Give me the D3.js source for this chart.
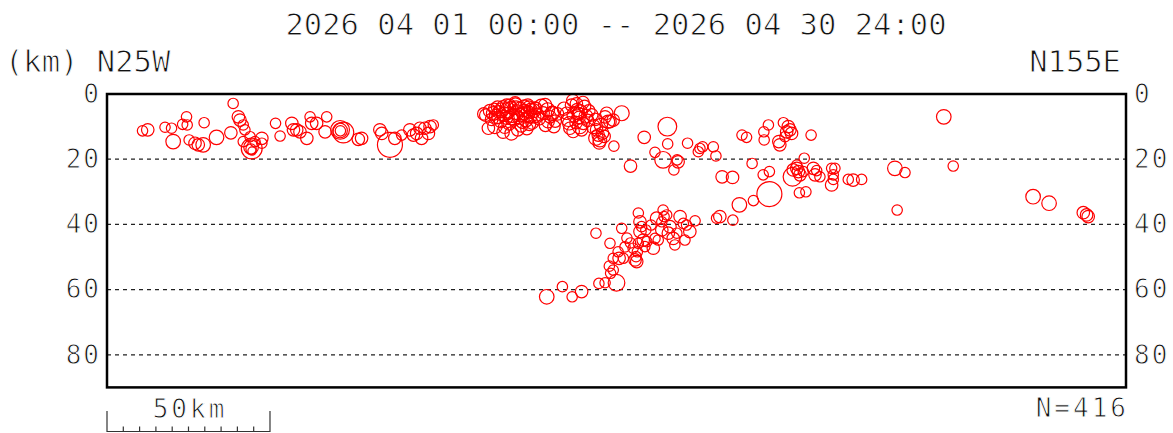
<!DOCTYPE html>
<html><head><meta charset="utf-8">
<script src="https://cdn.jsdelivr.net/npm/d3@7"></script>
<style>
html,body{margin:0;padding:0;background:#fff;}
svg{display:block;}
text{font-family:"DejaVu Sans Mono","Liberation Mono",monospace;fill:#111;stroke:#fff;stroke-width:0.9px;}
</style></head>
<body><svg id="chart" width="1173" height="433"></svg>
<script>
// ---- data: [distance along profile (km), depth (km), magnitude] ----
const westShallow = [
 [10.9,11.3,2.5],[12.5,11.0,3],[17.8,10.2,2.5],[19.8,10.5,2.5],[20.3,14.6,3.5],[23.2,9.3,2.5],
 [24.4,7.0,2.5],[24.6,9.5,2.5],[25.2,14.1,2.5],[27.0,15.1,3],[28.0,15.6,3],[29.5,15.6,3.5],
 [29.8,8.8,2.5],[33.6,13.3,3.5],[38.0,11.9,3],[38.7,2.9,2.5],[40.3,7.0,3],[40.8,8.0,3],
 [41.8,9.5,2.5],[42.3,11.0,2.5],[41.8,14.6,2.5],[43.9,13.1,2.5],[44.4,16.7,5],[44.2,16.3,3.5],
 [44.2,16.9,2.5],[44.5,17.5,2],[45.4,14.6,2.5],[47.5,13.6,3],[47.5,15.1,2.5],[51.7,9.0,2.5],
 [53.1,12.9,2.5],[56.7,9.0,3],[57.2,11.0,3],[58.2,11.0,3],[59.2,11.6,3],[61.3,13.6,3],
 [62.3,7.0,2.5],[62.8,9.0,3],[64.3,9.0,3],[67.4,7.0,2.5],[66.9,11.6,3],[71.5,11.0,4.5],
 [71.5,11.2,3.5],[71.6,11.3,2.5],[72.5,11.8,5],[77.1,13.9,3],[78.1,13.6,3],[83.7,11.0,3],
 [84.3,12.1,3],[86.8,15.6,6],[88.3,13.6,3],[90.4,12.6,2.5],[92.9,11.0,3],[94.0,12.6,3],
 [95.0,12.1,3],[96.0,10.5,3],[96.5,13.6,3],[97.5,10.5,3],[98.6,12.1,3],[100.1,9.5,2.5],[99.1,10.0,3]
];
const centralCluster = [
 [116.2,6.5,3],[117.5,5.2,3.2],[118.0,7.8,3],[118.8,4.6,2.8],[119.5,6.9,3.5],[120.2,5.5,3],
 [120.8,8.4,3.1],[121.4,3.9,2.9],[121.9,6.2,3.4],[122.5,7.4,3],[123.0,5.0,3.8],[123.4,9.2,3],
 [123.9,4.2,3],[124.4,6.6,3.3],[124.9,8.0,2.9],[125.3,3.1,3],[125.8,5.6,3.6],[126.2,7.2,3],
 [126.7,4.5,3.2],[127.1,9.8,3],[127.6,6.0,3],[128.0,3.8,3.1],[128.5,7.9,3.4],[129.0,5.3,3],
 [129.4,4.0,3],[129.9,6.8,3.2],[130.4,8.9,3],[130.9,5.1,3.3],[131.5,4.4,3],[132.0,6.3,3.1],
 [132.6,7.6,3],[133.2,3.6,3.2],[133.8,5.8,3],[134.5,9.6,3],[135.2,4.8,3.3],[135.9,7.0,3],
 [136.6,5.9,3.4],[137.1,10.0,3],[137.5,8.3,3],[138.2,6.1,3],
 [117.0,10.5,3],[119.0,9.9,3.5],[121.5,11.7,3],[124.1,12.1,3.2],[126.0,11.0,3],[128.8,10.6,3],
 [122.0,10.2,3],[115.6,6.1,3],[125.2,2.7,3],[122.6,3.4,3],[129.1,3.4,3],[134.4,3.4,3.2],
 [131.3,4.3,3],[136.8,5.8,3],[135.3,8.5,3],
 [118.5,6.0,3.3],[120.0,7.2,3],[121.0,5.0,3.5],[122.8,6.0,3],[124.0,7.5,3.1],[125.5,4.0,3],
 [126.8,6.5,3.2],[127.9,5.0,3],[128.9,6.2,3.6],[130.0,4.7,3],[131.2,7.0,3],[119.8,4.0,3],
 [123.5,3.5,3],[127.4,8.6,3],[129.6,9.3,3],
 [140.2,4.5,3.2],[141.0,5.9,3],[141.5,7.8,3.4],[142.0,10.5,3],[142.5,3.4,3],[142.9,2.0,3],
 [143.4,6.3,3.6],[143.9,8.8,3],[144.3,4.9,3.2],[144.8,7.2,3],[145.2,5.5,3.4],[145.6,11.0,3],
 [146.1,9.0,3],[146.5,3.8,3],[146.9,6.8,3.3],[147.4,8.1,3],[147.8,5.2,3],[145.0,9.9,3.6],
 [143.0,11.5,3],[144.0,3.0,3],[141.8,9.0,3.2],[146.0,2.6,3],[144.6,6.0,3],
 [148.7,6.4,3],[149.2,10.0,3.4],[150.2,11.0,3],[150.7,12.6,3],[151.2,14.1,3.3],[149.8,7.8,3],
 [151.5,9.5,3.2],[152.0,12.0,3],[152.8,7.0,3],[153.3,5.9,3],[153.7,8.5,3.2],[154.3,8.5,3],
 [155.3,8.0,3],[152.5,13.0,3],[151.0,15.0,3],[150.0,13.5,3.5],[157.9,5.9,3.6],[155.5,16.0,2.5]
];
const deepBranch = [
 [134.9,62.2,3.5],[139.7,59.1,2.5],[142.7,62.2,2.5],[145.6,60.6,3],[150.0,42.7,2.5],[150.9,58.1,2.5],
 [152.8,57.9,2.5],[154.3,45.8,2.5],[154.1,52.8,2.5],[154.5,55.0,2.5],[155.3,54.0,2.5],[156.3,57.9,4],
 [155.3,50.4,2.5],[156.8,48.4,2.5],[157.1,50.4,3],[157.9,41.2,2.5],[158.4,50.4,2.5],[161.4,47.3,2.5],
 [162.0,50.9,3],[162.5,51.4,3],[162.3,49.9,2.5],[162.7,48.4,2.5],[163.0,45.8,2.5],[163.5,39.2,3],
 [164.0,40.7,2.5],[163.5,42.2,3],[164.5,44.8,3],[165.6,45.3,2.5],[165.0,46.8,2.5],[167.6,47.3,3],
 [168.1,44.3,2.5],[168.6,38.1,3],[169.1,44.8,2.5],[170.2,41.7,3],[170.6,35.6,2.5],[170.9,37.6,2.5],
 [170.2,39.2,2.5],[171.7,37.1,2.5],[172.2,42.7,3],[172.7,40.7,3],[173.7,44.3,3],[174.8,42.7,2.5],
 [175.8,37.6,3],[176.8,39.7,2.5],[177.3,44.8,2.5],[177.8,40.2,2.5],[178.8,42.2,3],[180.4,38.9,2.5],
 [163.0,36.5,2.5],[159.5,44.2,2.5],[158.9,46.9,2.5],[160.6,45.7,2.5],[165.3,41.7,2.5],[166.9,40.2,2.5],
 [174.2,46.3,2.5],[187.0,38.1,2.5],[188.0,37.6,3],[192.0,38.7,2.5]
];
const eastEvents = [
 [164.8,13.3,3],[171.9,10.0,4.5],[172.0,15.3,2.5],[168.1,17.9,2.5],[170.6,20.2,4],[160.6,22.1,3],
 [173.9,23.3,2.5],[175.2,20.8,3],[174.9,20.2,2.5],[178.1,15.1,2.5],[181.4,17.7,2.5],[181.9,16.7,2.5],
 [182.7,16.2,2.5],[186.0,16.2,2.5],[186.8,19.0,2.5],[188.7,25.4,3],[191.9,25.6,3],[194.0,34.0,3.5],
 [198.3,32.7,2.5],[203.2,30.7,6],[201.3,24.8,2.5],[203.2,23.8,2.5],[197.9,21.3,2.5],[194.8,12.6,2.5],
 [196.2,13.3,2.5],[201.5,11.6,2.5],[202.9,9.5,2.5],[201.6,14.1,2.5],[206.1,14.6,3],[206.4,15.6,3],
 [207.5,8.8,2.5],[209.0,10.0,3],[209.5,11.0,3],[210.0,12.1,3],[208.5,11.6,3],[208.0,13.1,2.5],
 [216.0,12.6,2.5],[213.9,19.7,2.5],[210.3,25.4,4.5],[210.5,23.3,3],[211.6,22.8,3],[212.1,23.8,3],
 [212.6,24.8,3],[213.6,23.8,2.5],[211.6,21.8,2.5],[216.7,22.8,3],[217.2,24.8,3],[217.7,23.5,2.5],
 [218.7,25.4,2.5],[222.3,22.8,2.5],[222.8,24.8,2.5],[222.8,26.2,2.5],[222.3,27.9,3],[223.3,22.8,2.5],
 [227.4,26.2,2.5],[228.9,26.4,3],[231.5,26.2,2.5],[212.4,30.3,2.5],[214.4,30.0,2.5],
 [256.7,7.0,3.5],[241.7,22.8,3.5],[244.8,24.1,2.5],[259.6,22.1,2.5],[242.4,35.6,2.5],
 [284.1,31.5,3.5],[289.0,33.5,3.5],[299.5,36.4,3],[300.5,37.1,3],[301.0,37.6,3]
];
const yTicks = [0, 20, 40, 60, 80];
const gridDepths = [20, 40, 60, 80];
const scaleBarTicks = [0, 5, 10, 15, 20, 25, 30, 35, 40, 45, 50];
const titleText = "2026 04 01 00:00 -- 2026 04 30 24:00";
const leftLabel = "(km) N25W";
const rightLabel = "N155E";
const countLabel = "N=416";
const scaleLabel = "50km";

// ---- layout ----
const svg = d3.select("#chart");
const X0 = 107, X1 = 1126, Y0 = 94, Y1 = 387.4;
const x = d3.scaleLinear().domain([0, 312.6]).range([X0, X1]);
const y = d3.scaleLinear().domain([0, 90]).range([Y0, Y1]);
const r = d3.scaleLinear().domain([0, 6]).range([0, 12.5]);

// grid
svg.append("g").selectAll("line").data(gridDepths).join("line")
  .attr("x1", X0).attr("x2", X1).attr("y1", d => y(d)).attr("y2", d => y(d))
  .attr("stroke", "#222").attr("stroke-width", 1.2).attr("stroke-dasharray", "4,4");

// events
const events = [].concat(westShallow, centralCluster, deepBranch, eastEvents);
svg.append("g").selectAll("circle").data(events).join("circle")
  .attr("cx", d => x(d[0])).attr("cy", d => y(d[1])).attr("r", d => r(d[2]))
  .attr("fill", "none").attr("stroke", "#ff0000").attr("stroke-width", 1.2);

// frame
svg.append("rect").attr("x", X0).attr("y", Y0).attr("width", X1 - X0).attr("height", Y1 - Y0)
  .attr("fill", "none").attr("stroke", "#000").attr("stroke-width", 2.5);

// axes labels
const axL = svg.append("g").attr("transform", `translate(${X0},0)`)
  .call(d3.axisLeft(y).tickValues(yTicks).tickSize(0).tickPadding(6));
const axR = svg.append("g").attr("transform", `translate(${X1},0)`)
  .call(d3.axisRight(y).tickValues(yTicks).tickSize(0).tickPadding(8));
[axL, axR].forEach(g => {
  g.select(".domain").remove();
  g.selectAll("text").attr("font-family", "DejaVu Sans Mono").attr("font-size", 26)
    .style("letter-spacing", "2px").attr("fill", "#111");
});

// texts
svg.append("text").attr("x", 616).attr("y", 35).attr("text-anchor", "middle")
  .attr("font-size", 30.5).text(titleText);
svg.append("text").attr("x", 5).attr("y", 72).attr("font-size", 30.5).text(leftLabel);
svg.append("text").attr("x", 1121).attr("y", 72).attr("text-anchor", "end")
  .attr("font-size", 30.5).text(rightLabel);
svg.append("text").attr("x", 1129).attr("y", 417).attr("text-anchor", "end")
  .attr("font-size", 26).style("letter-spacing", "3px").text(countLabel);

// scale bar
const sb = d3.scaleLinear().domain([0, 50]).range([X0, x(50)]);
svg.append("text").attr("x", (sb(0) + sb(50)) / 2 + 1.5).attr("y", 418).attr("text-anchor", "middle")
  .attr("font-size", 26).style("letter-spacing", "3px").text(scaleLabel);
svg.append("line").attr("x1", sb(0)).attr("x2", sb(50)).attr("y1", 431.5).attr("y2", 431.5)
  .attr("stroke", "#333").attr("stroke-width", 1.2);
svg.append("g").selectAll("line").data(scaleBarTicks).join("line")
  .attr("x1", d => sb(d)).attr("x2", d => sb(d))
  .attr("y1", d => (d === 0 || d === 50) ? 411 : 426.5).attr("y2", 432)
  .attr("stroke", "#333").attr("stroke-width", 1.2);
</script></body></html>
